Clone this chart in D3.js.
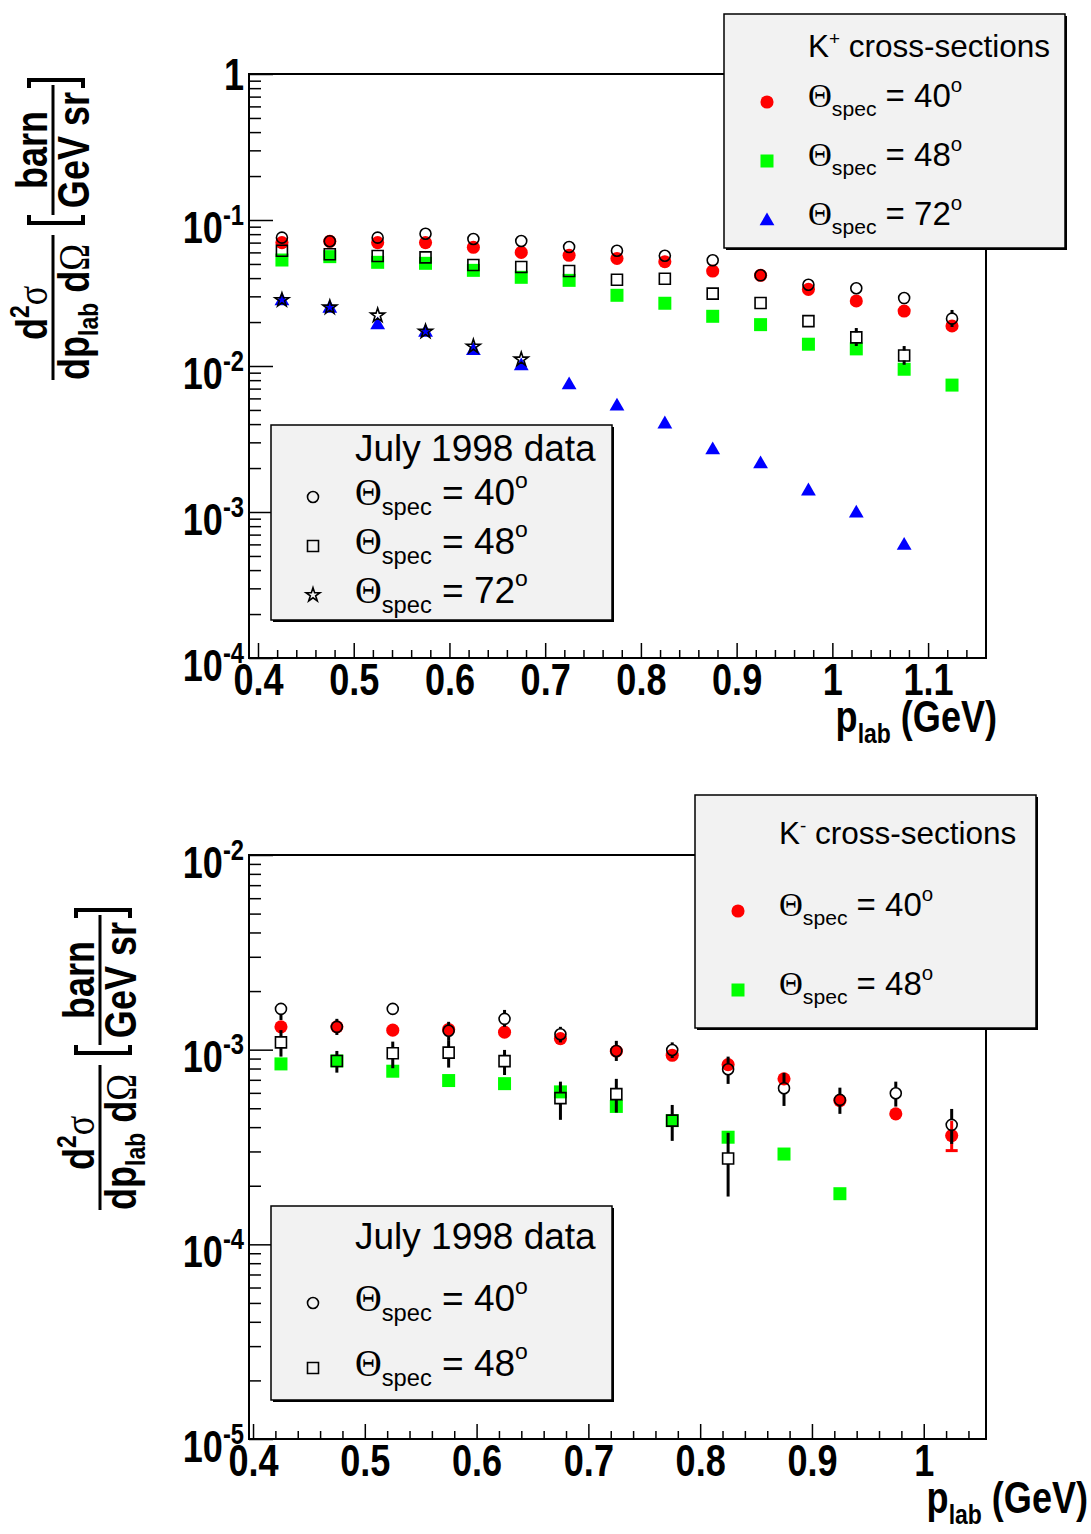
<!DOCTYPE html>
<html>
<head>
<meta charset="utf-8">
<script src="https://cdn.jsdelivr.net/npm/d3@7"></script>
<style>
body { margin: 0; background: #fff; }
svg { display: block; }
</style>
</head>
<body>
<div id="chart"></div>
<script>
var width = 1091;
var height = 1534;

// ---- top panel: K+ cross-sections ----
var pTop = [0.425, 0.475, 0.525, 0.575, 0.625, 0.675, 0.725, 0.775, 0.825, 0.875, 0.925, 0.975, 1.025, 1.075, 1.125];
var kp40 = [0.070, 0.0715, 0.070, 0.070, 0.065, 0.060, 0.0573, 0.0545, 0.0518, 0.0447, 0.0418, 0.0335, 0.0279, 0.0238, 0.0188];
var kp48 = [0.0532, 0.0561, 0.0513, 0.0505, 0.0452, 0.0405, 0.0386, 0.0305, 0.0269, 0.0219, 0.0192, 0.0141, 0.0131, 0.0095, 0.0074];
var kp72 = [0.0279, 0.0248, 0.0191, 0.0170, 0.0127, 0.0100, 0.0074, 0.0053, 0.0040, 0.00266, 0.00213, 0.00139, 0.00098, 0.00059];
// July 1998 data
var jul40Top = [0.0757, 0.0715, 0.0757, 0.0805, 0.0741, 0.0718, 0.0653, 0.0616, 0.0569, 0.0530, 0.0418, 0.0360, 0.0341, 0.0292, 0.0211];
var jul40TopHi = [null, null, null, null, null, null, null, null, null, null, null, null, null, null, 0.0242];
var jul40TopLo = [null, null, null, null, null, null, null, null, null, null, null, null, null, null, 0.0185];
var jul48Top = [0.0616, 0.0582, 0.0567, 0.0555, 0.0492, 0.0476, 0.0447, 0.0390, 0.0396, 0.0313, 0.0270, 0.0203, 0.0157, 0.0118];
var jul48TopHi = [null, null, null, null, null, null, null, null, null, null, null, null, 0.0182, 0.0137];
var jul48TopLo = [null, null, null, null, null, null, null, null, null, null, null, null, 0.0137, 0.0102];
var jul72Top = [0.0283, 0.0252, 0.0222, 0.0172, 0.0136, 0.0111];
var xTicksTop = [0.4, 0.5, 0.6, 0.7, 0.8, 0.9, 1.0, 1.1];
var yTicksTop = [1e-4, 1e-3, 1e-2, 1e-1, 1];

// ---- bottom panel: K- cross-sections ----
var pBot = [0.425, 0.475, 0.525, 0.575, 0.625, 0.675, 0.725, 0.775, 0.825, 0.875, 0.925, 0.975, 1.025];
var km40 = [1.31e-3, 1.31e-3, 1.26e-3, 1.27e-3, 1.23e-3, 1.14e-3, 9.82e-4, 9.36e-4, 8.38e-4, 7.08e-4, 5.48e-4, 4.68e-4, 3.62e-4];
var km40Hi = [null, null, null, null, null, null, null, null, null, null, null, null, 4.31e-4];
var km40Lo = [null, null, null, null, null, null, null, null, null, null, null, null, 3.03e-4];
var km48 = [8.45e-4, 8.75e-4, 7.75e-4, 6.94e-4, 6.69e-4, 6.07e-4, 5.11e-4, 4.32e-4, 3.55e-4, 2.91e-4, 1.82e-4];
var jul40Bot = [1.62e-3, 1.31e-3, 1.62e-3, 1.25e-3, 1.44e-3, 1.20e-3, 9.85e-4, 9.96e-4, 7.93e-4, 6.34e-4, 5.52e-4, 5.97e-4, 4.11e-4];
var jul40BotHi = [1.72e-3, 1.44e-3, 1.72e-3, 1.39e-3, 1.60e-3, 1.31e-3, 1.11e-3, 1.09e-3, 9.21e-4, 7.60e-4, 6.38e-4, 6.85e-4, 4.96e-4];
var jul40BotLo = [1.42e-3, 1.19e-3, 1.52e-3, 1.12e-3, 1.31e-3, 1.09e-3, 8.75e-4, 9.06e-4, 6.67e-4, 5.14e-4, 4.68e-4, 5.10e-4, 3.28e-4];
var jul48Bot = [1.09e-3, 8.75e-4, 9.59e-4, 9.66e-4, 8.73e-4, 5.64e-4, 5.91e-4, 4.32e-4, 2.76e-4];
var jul48BotHi = [1.26e-3, 9.85e-4, 1.10e-3, 1.12e-3, 9.97e-4, 6.85e-4, 7.08e-4, 5.20e-4, 3.74e-4];
var jul48BotLo = [9.21e-4, 7.62e-4, 8.03e-4, 8.09e-4, 7.41e-4, 4.36e-4, 4.75e-4, 3.40e-4, 1.76e-4];
var xTicksBot = [0.4, 0.5, 0.6, 0.7, 0.8, 0.9, 1.0];
var yTicksBot = [1e-5, 1e-4, 1e-3, 1e-2];

var BOLD = '"Liberation Sans", Arial, Helvetica, sans-serif';
var SANS = '"Liberation Sans", Arial, Helvetica, sans-serif';
var SERIF = '"Liberation Serif", "DejaVu Serif", serif';
var NARROW = 0.82; // squeeze for the bold axis fonts

var canvas = d3.select("#chart")
                .append("svg")
                .attr("width", width)
                .attr("height", height)
                .style("background-color", "#ffffff");

var markerStyles = {
        fcircle: { sym: d3.symbolCircle, size: 135, fill: "#ff0000", stroke: "none" },
        ocircle: { sym: d3.symbolCircle, size: 95, fill: "none", stroke: "#000" },
        fsquare: { sym: d3.symbolSquare, size: 169, fill: "#00ff00", stroke: "none" },
        osquare: { sym: d3.symbolSquare, size: 121, fill: "none", stroke: "#000" },
        ftri: { sym: d3.symbolTriangle, size: 95, fill: "#0000ff", stroke: "none" },
        ostar: { sym: d3.symbolStar, size: 60, fill: "none", stroke: "#000" }
};

function styleMarker(sel, type) {
        var st = markerStyles[type];
        sel.attr("d", d3.symbol().type(st.sym).size(st.size))
           .attr("fill", st.fill)
           .attr("stroke", st.stroke)
           .attr("stroke-width", 1.6);
}

function drawMarkers(g, xs, ys, x, y, type) {
        var pts = ys.map(function(v, i) { return { p: xs[i], v: v }; });
        g.append("g").selectAll("path")
                .data(pts)
                .enter()
                .append("path")
                .attr("transform", function(d) { return "translate(" + x(d.p) + "," + y(d.v) + ")"; })
                .call(styleMarker, type);
}

// error bars drawn outside the marker, like ROOT does
function drawErrors(g, xs, ys, lo, hi, x, y, color, gap, cap) {
        var segs = [];
        ys.forEach(function(v, i) {
                if (hi[i] == null) return;
                var cx = x(xs[i]), cy = y(v);
                if (y(hi[i]) < cy - gap) segs.push([cx, y(hi[i]), cx, cy - gap]);
                if (y(lo[i]) > cy + gap) segs.push([cx, cy + gap, cx, y(lo[i])]);
                if (cap) segs.push([cx - 6, y(lo[i]), cx + 6, y(lo[i])]);
        });
        g.append("g").selectAll("line")
                .data(segs)
                .enter()
                .append("line")
                .attr("x1", function(d) { return d[0]; })
                .attr("y1", function(d) { return d[1]; })
                .attr("x2", function(d) { return d[2]; })
                .attr("y2", function(d) { return d[3]; })
                .attr("stroke", color)
                .attr("stroke-width", 3);
}

function drawAxes(x, y, L, R, T, B, xMaj, xMinor, yMajor, yMinor) {
        var gx = canvas.append("g").attr("transform", "translate(0," + B + ")");
        gx.call(d3.axisBottom(x).tickValues(xMinor).tickSizeInner(-8).tickSizeOuter(0).tickFormat(""));
        var gx2 = canvas.append("g").attr("transform", "translate(0," + B + ")");
        gx2.call(d3.axisBottom(x).tickValues(xMaj).tickSizeInner(-15).tickSizeOuter(0)
                .tickFormat(function(d) { return String(+d.toFixed(1)); }));
        gx2.selectAll(".tick text")
                .attr("y", 37).attr("dy", 0)
                .attr("transform", "scale(" + NARROW + ",1)")
                .attr("font-family", BOLD).attr("font-weight", "bold").attr("font-size", 44)
                .attr("fill", "#000");

        var gy = canvas.append("g").attr("transform", "translate(" + L + ",0)");
        gy.call(d3.axisLeft(y).tickValues(yMinor).tickSizeInner(-12).tickSizeOuter(0).tickFormat(""));
        var gy2 = canvas.append("g").attr("transform", "translate(" + L + ",0)");
        gy2.call(d3.axisLeft(y).tickValues(yMajor).tickSizeInner(-24).tickSizeOuter(0).tickFormat(""));
        gy2.selectAll(".tick text").each(function(d) {
                var t = d3.select(this);
                var e = Math.round(Math.log10(d));
                t.attr("x", -6).attr("dy", 0)
                 .attr("transform", "scale(" + NARROW + ",1)")
                 .attr("font-family", BOLD).attr("font-weight", "bold").attr("font-size", 44)
                 .attr("fill", "#000");
                if (e === 0) {
                        t.attr("y", 15).text("1");
                } else {
                        t.attr("y", 22);
                        t.append("tspan").text("10");
                        t.append("tspan").attr("dy", -18).attr("font-size", 29).text(String(e));
                }
        });

        canvas.selectAll(".domain").remove();
        canvas.selectAll(".tick line").attr("stroke", "#000").attr("stroke-width", 1.5);

        canvas.append("rect")
                .attr("x", L).attr("y", T)
                .attr("width", R - L).attr("height", B - T)
                .attr("fill", "none").attr("stroke", "#000").attr("stroke-width", 2);
}

// bold squeezed text placed at (x, y) in the parent's frame
function boldText(parent, x, y, anchor) {
        return parent.append("text")
                .attr("transform", "translate(" + x + "," + y + ") scale(" + NARROW + ",1)")
                .attr("text-anchor", anchor || "start")
                .attr("font-family", BOLD).attr("font-weight", "bold").attr("font-size", 44)
                .attr("fill", "#000");
}

function yTitle(cx, by) {
        var g = canvas.append("g")
                .attr("transform", "translate(" + cx + "," + by + ") rotate(-90)");
        var num = boldText(g, 40, -6);
        num.append("tspan").text("d");
        num.append("tspan").attr("dy", -18).attr("font-size", 28).text("2");
        num.append("tspan").attr("dy", 18).attr("font-family", SERIF).attr("font-weight", "normal").text("σ");
        g.append("line").attr("x1", 0).attr("x2", 145).attr("y1", 0).attr("y2", 0)
                .attr("stroke", "#000").attr("stroke-width", 3);
        var den = boldText(g, 0, 36);
        den.append("tspan").text("dp");
        den.append("tspan").attr("dy", 9).attr("font-size", 28).text("lab");
        den.append("tspan").attr("dy", -9).text(" d");
        den.append("tspan").attr("font-family", SERIF).attr("font-weight", "normal").text("Ω");

        g.append("path").attr("d", "M165,-24 L157,-24 L157,30 L165,30")
                .attr("fill", "none").attr("stroke", "#000").attr("stroke-width", 4);
        boldText(g, 230, -6, "middle").text("barn");
        g.append("line").attr("x1", 165).attr("x2", 295).attr("y1", 0).attr("y2", 0)
                .attr("stroke", "#000").attr("stroke-width", 3);
        boldText(g, 230, 36, "middle").text("GeV sr");
        g.append("path").attr("d", "M292,-24 L300,-24 L300,30 L292,30")
                .attr("fill", "none").attr("stroke", "#000").attr("stroke-width", 4);
}

function xTitle(xr, yb) {
        var t = boldText(canvas, xr, yb, "end");
        t.append("tspan").text("p");
        t.append("tspan").attr("dy", 11).attr("font-size", 28).text("lab");
        t.append("tspan").attr("dy", -11).text(" (GeV)");
}

function legendBox(x0, y0, x1, y1) {
        canvas.append("rect").attr("x", x0 + 2).attr("y", y0 + 2)
                .attr("width", x1 - x0).attr("height", y1 - y0).attr("fill", "#000");
        canvas.append("rect").attr("x", x0).attr("y", y0)
                .attr("width", x1 - x0).attr("height", y1 - y0)
                .attr("fill", "#f2f2f2").attr("stroke", "#000").attr("stroke-width", 1.5);
}

function thetaLabel(x, y, fs, deg) {
        var t = canvas.append("text").attr("x", x).attr("y", y)
                .attr("font-family", SANS).attr("font-size", fs).attr("fill", "#000");
        t.append("tspan").attr("font-family", SERIF).text("Θ");
        t.append("tspan").attr("font-size", fs * 0.64).attr("dy", fs * 0.26).text("spec");
        t.append("tspan").attr("dy", -fs * 0.26).text(" = " + deg);
        t.append("tspan").attr("font-size", fs * 0.62).attr("dy", -fs * 0.45).text("o");
}

function legendTitle(x, y, fs, parts) {
        var t = canvas.append("text").attr("x", x).attr("y", y)
                .attr("font-family", SANS).attr("font-size", fs).attr("fill", "#000");
        if (parts.sup) {
                t.append("tspan").text(parts.main);
                t.append("tspan").attr("font-size", fs * 0.6).attr("dy", -fs * 0.38).text(parts.sup);
                t.append("tspan").attr("dy", fs * 0.38).text(parts.rest);
        } else {
                t.text(parts.main);
        }
}

function legendMarker(x, y, type) {
        canvas.append("path")
                .attr("transform", "translate(" + x + "," + y + ")")
                .call(styleMarker, type);
}

function minorX(lo, hi) {
        return d3.range(0.40, hi, 0.02).filter(function(v) { return Math.abs(v * 10 - Math.round(v * 10)) > 0.01; });
}

function minorLog(decades) {
        var out = [];
        decades.forEach(function(e) { for (var k = 2; k <= 9; k++) out.push(k * Math.pow(10, e)); });
        return out;
}

// ================= TOP PANEL =================
var xTop = d3.scaleLinear().domain([0.3906, 1.1605]).range([249, 986]);
var yTop = d3.scaleLog().domain([1e-4, 1]).range([658, 74]);

drawAxes(xTop, yTop, 249, 986, 74, 658, xTicksTop, minorX(0.40, 1.1605), yTicksTop, minorLog([-4, -3, -2, -1]));

var gTop = canvas.append("g");
drawMarkers(gTop, pTop, kp40, xTop, yTop, "fcircle");
drawMarkers(gTop, pTop, kp48, xTop, yTop, "fsquare");
drawMarkers(gTop, pTop, kp72, xTop, yTop, "ftri");
drawErrors(gTop, pTop, jul40Top, jul40TopLo, jul40TopHi, xTop, yTop, "#000", 5, false);
drawErrors(gTop, pTop, jul48Top, jul48TopLo, jul48TopHi, xTop, yTop, "#000", 5, false);
drawMarkers(gTop, pTop, jul40Top, xTop, yTop, "ocircle");
drawMarkers(gTop, pTop, jul48Top, xTop, yTop, "osquare");
drawMarkers(gTop, pTop, jul72Top, xTop, yTop, "ostar");

yTitle(53, 380);
xTitle(997, 732);

legendBox(724, 14, 1065, 248);
legendTitle(808, 57, 31.5, { main: "K", sup: "+", rest: " cross-sections" });
legendMarker(767, 102, "fcircle");
thetaLabel(808, 107, 33, "40");
legendMarker(767, 161, "fsquare");
thetaLabel(808, 166, 33, "48");
legendMarker(767, 221, "ftri");
thetaLabel(808, 225, 33, "72");

legendBox(271, 425, 612, 620);
legendTitle(355, 461, 37, { main: "July 1998 data" });
legendMarker(313, 497, "ocircle");
thetaLabel(355, 505, 37, "40");
legendMarker(313, 546, "osquare");
thetaLabel(355, 554, 37, "48");
legendMarker(313, 595, "ostar");
thetaLabel(355, 603, 37, "72");

// ================= BOTTOM PANEL =================
var xBot = d3.scaleLinear().domain([0.3964, 1.0557]).range([249, 986]);
var yBot = d3.scaleLog().domain([1e-5, 1e-2]).range([1439, 855]);

drawAxes(xBot, yBot, 249, 986, 855, 1439, xTicksBot, minorX(0.40, 1.0557), yTicksBot, minorLog([-5, -4, -3]));

var gBot = canvas.append("g");
drawMarkers(gBot, pBot, km40, xBot, yBot, "fcircle");
drawMarkers(gBot, pBot, km48, xBot, yBot, "fsquare");
drawErrors(gBot, pBot, km40, km40Lo, km40Hi, xBot, yBot, "#ff0000", 6, true);
drawErrors(gBot, pBot, jul40Bot, jul40BotLo, jul40BotHi, xBot, yBot, "#000", 5.5, false);
drawErrors(gBot, pBot, jul48Bot, jul48BotLo, jul48BotHi, xBot, yBot, "#000", 5.5, false);
drawMarkers(gBot, pBot, jul40Bot, xBot, yBot, "ocircle");
drawMarkers(gBot, pBot, jul48Bot, xBot, yBot, "osquare");

yTitle(100, 1210);
xTitle(1088, 1513);

legendBox(695, 795, 1036, 1028);
legendTitle(779, 844, 31.5, { main: "K", sup: "-", rest: " cross-sections" });
legendMarker(738, 911, "fcircle");
thetaLabel(779, 916, 33, "40");
legendMarker(738, 990, "fsquare");
thetaLabel(779, 995, 33, "48");

legendBox(271, 1206, 612, 1400);
legendTitle(355, 1249, 37, { main: "July 1998 data" });
legendMarker(313, 1303, "ocircle");
thetaLabel(355, 1311, 37, "40");
legendMarker(313, 1368, "osquare");
thetaLabel(355, 1376, 37, "48");
</script>
</body>
</html>
